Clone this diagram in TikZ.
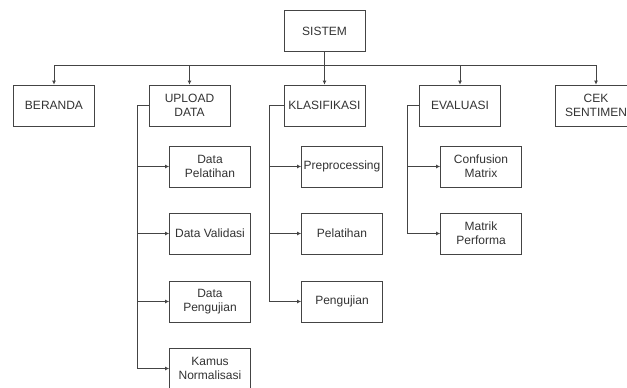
\documentclass[tikz,border=0pt]{standalone}
\usepackage{fontspec}
\setmainfont{Liberation Sans}
\usetikzlibrary{arrows.meta}
\definecolor{lineclr}{HTML}{444444}
\definecolor{textclr}{HTML}{333333}
\tikzset{
  menubox/.style={draw=lineclr, line width=0.8pt, fill=white, text=textclr,
    minimum width=81pt, minimum height=41pt, inner sep=1pt, align=center,
    font=\fontsize{12}{14}\selectfont},
  arr/.style={draw=lineclr, line width=0.8pt, -{Latex[length=4pt,width=4pt]}},
}
\begin{document}
\begin{tikzpicture}[x=1pt, y=-1pt]
    \useasboundingbox (0,0) rectangle (627,388);
    % level 0 and 1
    \node[menubox] (sistem) at (324.5,31) {SISTEM};
    \node[menubox] (beranda) at (54,105.5) {BERANDA};
    \node[menubox] (upload) at (189.5,105.5) {UPLOAD\\DATA};
    \node[menubox] (klasifikasi) at (324.5,105.5) {KLASIFIKASI};
    \node[menubox] (evaluasi) at (460,105.5) {EVALUASI};
    \node[menubox] (cek) at (596,105.5) {CEK\\SENTIMEN};
    \coordinate (bus) at (324.5,65);
    \draw[arr] (sistem.south) -- (klasifikasi.north);
    \draw[arr] (bus) -| (beranda.north);
    \draw[arr] (bus) -| (upload.north);
    \draw[arr] (bus) -| (evaluasi.north);
    \draw[arr] (bus) -| (cek.north);
    % upload data
    \node[menubox] (dlatih) at (210,166.5) {Data\\Pelatihan};
    \node[menubox] (dvalid) at (210,233.5) {Data Validasi};
    \node[menubox] (duji) at (210,301.5) {Data\\Pengujian};
    \node[menubox] (kamus) at (210,368.5) {Kamus\\Normalisasi};
    \foreach \c in {dlatih,dvalid,duji,kamus}
        \draw[arr] (upload.west) -- ++(-11,0) |- (\c.west);
    % klasifikasi
    \node[menubox] (prepro) at (342,166.5) {Preprocessing};
    \node[menubox] (latih) at (342,233.5) {Pelatihan};
    \node[menubox] (uji) at (342,301.5) {Pengujian};
    \foreach \c in {prepro,latih,uji}
        \draw[arr] (klasifikasi.west) -- ++(-14,0) |- (\c.west);
    % evaluasi
    \node[menubox] (confusion) at (481,166.5) {Confusion\\Matrix};
    \node[menubox] (performa) at (481,233.5) {Matrik\\Performa};
    \foreach \c in {confusion,performa}
        \draw[arr] (evaluasi.west) -- ++(-12,0) |- (\c.west);
\end{tikzpicture}
\end{document}
